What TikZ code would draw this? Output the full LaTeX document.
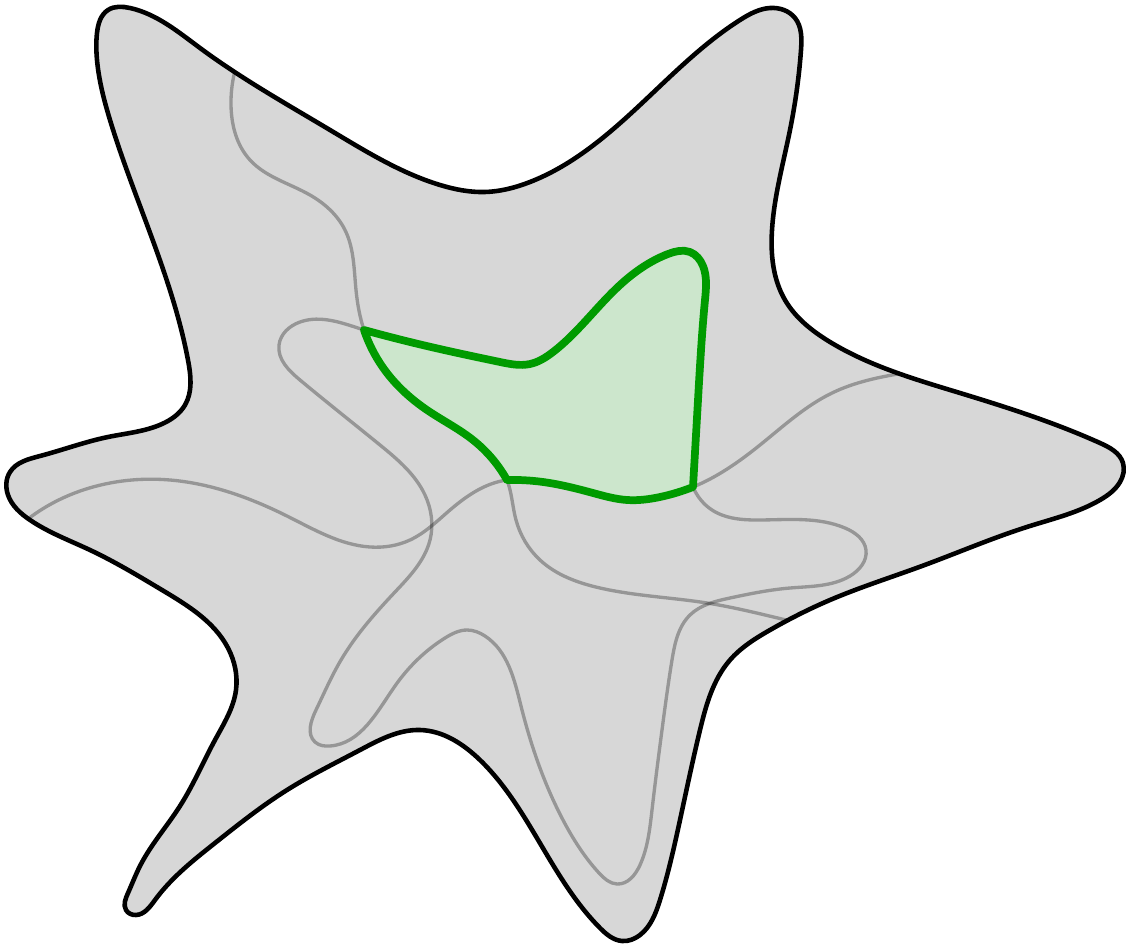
\documentclass[tikz,border=0pt]{standalone}
\usepackage{tikz}
\usetikzlibrary{hobby}

\definecolor{stargray}{RGB}{215,215,215}
\definecolor{regline}{RGB}{0,155,0}
\definecolor{regfill}{RGB}{204,230,204}

% outline of the star (pixel units, y downwards)
\newcommand{\starline}{plot[closed hobby] coordinates {
  (97,33) (108,10) (130,8) (200,48) (330,130) (440,185) (485,192)
  (530,182) (640,105) (740,20) (770,8) (795,18) (801,50) (790,130)
  (772,230) (785,300) (830,342) (960,393) (1100,443) (1123,463)
  (1120,482) (1100,500) (1030,526) (922,566) (830,600) (770,630)
  (730,660) (700,730) (680,820) (660,900) (640,935) (622,941)
  (600,928) (550,860) (480,760) (420,730) (360,750) (287,790)
  (215,843) (155,900) (136,915) (126,910) (128,893) (140,866)
  (180,806) (215,740) (236,690) (228,648) (162,590) (90,550)
  (30,520) (8,495) (10,472) (40,456) (108,437) (162,424) (185,405)
  (188,360) (165,275) (110,120) (97,60)}}

\begin{document}
\begin{tikzpicture}[x=0.02cm, y=-0.02cm,
  starfill/.style ={fill=stargray},
  starrim/.style  ={draw=black, line width=2.6pt},
  curve/.style    ={draw=black, opacity=0.3, line width=1.9pt},
  region/.style   ={fill=regfill, draw=regline, line width=4.4pt,
                    line join=round},
]
\useasboundingbox (0,0) rectangle (1126,946);

% === Star ===
\path[starfill] \starline;

% === Curves inside the star ===
\begin{scope}
\clip \starline;
\draw[curve] plot[hobby] coordinates {
  (240,55) (231,105) (250,160) (310,195) (345,230) (356,290) (364,330)
  (387,373) (427,410) (473,440) (507,480) (516,520) (540,560) (600,588)
  (707,603) (786,620) (820,628)};
\draw[curve] plot[hobby] coordinates {
  (5,540) (32,516) (110,483) (170,480) (287,516) (370,547) (410,540)
  (450,510) (507,480) (543,482) (593,493) (627,500) (660,497)
  (693,487) (760,445) (832,393) (904,373) (940,368)};
\draw[curve] plot[closed hobby] coordinates {
  (364,330) (300,322) (279,345) (300,380) (380,445) (425,495)
  (430,540) (395,592) (341,660) (316,710) (315,742) (330,746)
  (395,686) (445,638) (467,630) (485,636) (521,706) (563,820)
  (599,873) (617,884) (640,865) (652,810) (662,730) (672,660)
  (690,615) (730,598) (790,588) (850,576) (866,550) (845,528)
  (760,520) (712,510) (693,487) (698,400) (705,300) (703,266)
  (690,252) (668,254) (620,285) (553,352) (530,364) (500,362)
  (431,347)};
\end{scope}

% === Green region ===
\path[region] plot[hobby] coordinates {
  (364,330) (431,347) (500,362) (530,364) (553,352) (620,285)
  (668,254) (690,252) (703,266) (705,300) (698,400) (693,487)}
  -- plot[hobby] coordinates {
  (693,487) (660,497) (627,500) (593,493) (543,482) (507,480)}
  -- plot[hobby] coordinates {
  (507,480) (473,440) (427,410) (387,373) (364,330)}
  -- cycle;

% === Star outline ===
\path[starrim] \starline;

\end{tikzpicture}
\end{document}
